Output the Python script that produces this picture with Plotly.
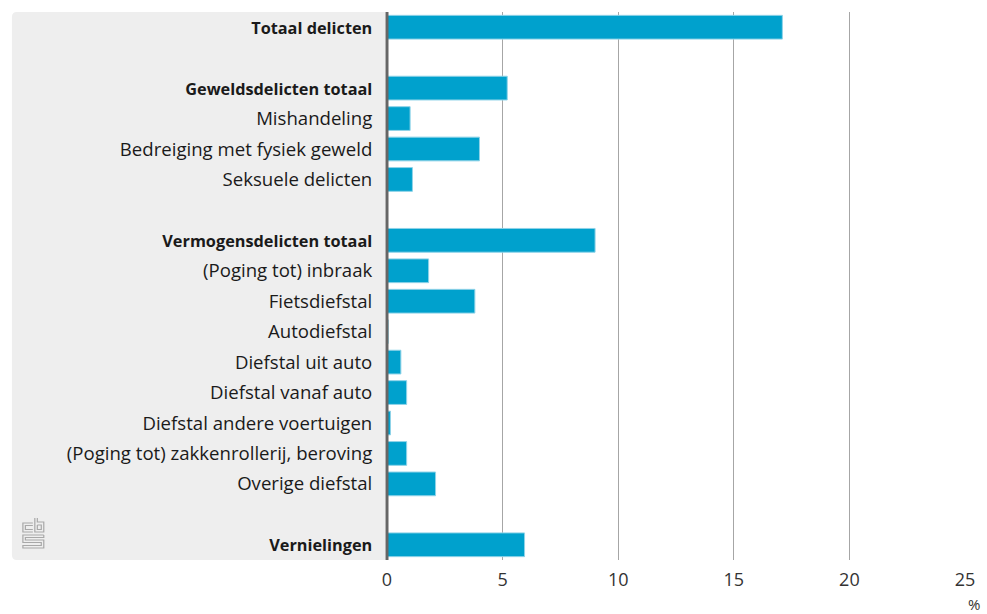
import plotly.graph_objects as go

categories = [
    "Totaal delicten", "",
    "Geweldsdelicten totaal", "Mishandeling", "Bedreiging met fysiek geweld", "Seksuele delicten", "",
    "Vermogensdelicten totaal", "(Poging tot) inbraak", "Fietsdiefstal", "Autodiefstal",
    "Diefstal uit auto", "Diefstal vanaf auto", "Diefstal andere voertuigen",
    "(Poging tot) zakkenrollerij, beroving", "Overige diefstal", "",
    "Vernielingen",
]
bold_categories = ["Totaal delicten", "Geweldsdelicten totaal", "Vermogensdelicten totaal", "Vernielingen"]
values = [17.1, None, 5.2, 1.0, 4.0, 1.1, None, 9.0, 1.8, 3.8, 0.05, 0.6, 0.85, 0.15, 0.85, 2.1, None, 5.95]
x_ticks = [0, 5, 10, 15, 20, 25]

positions = list(range(len(categories)))
tick_text = [
    f"<b><span style='font-size:16.3px'>{c}</span></b>" if c in bold_categories else c
    for c in categories
]

FONT = "Open Sans"
BAR = "#00a1cd"

# pixel geometry helpers (plot area: x 387..968, y 12..560)
L, R, T, B = 387, 968, 12, 560
W, H = R - L, B - T
def px(p):
    return (p - L) / W
def py(p):
    return (B - p) / H

fig = go.Figure()
fig.add_trace(go.Bar(
    x=values, y=positions, orientation="h",
    marker=dict(color=BAR, line=dict(color="#8fd3e8", width=1)),
    width=0.78, hoverinfo="skip",
))

shapes = []
# grey label panel with rounded corners
x0, x1, y0, y1, r = 10, 385, T, B, 5
path = (f"M {px(x0+r)},{py(y0)} L {px(x1)},{py(y0)} L {px(x1)},{py(y1)} "
        f"L {px(x0+r)},{py(y1)} Q {px(x0)},{py(y1)} {px(x0)},{py(y1-r)} "
        f"L {px(x0)},{py(y0+r)} Q {px(x0)},{py(y0)} {px(x0+r)},{py(y0)} Z")
shapes.append(dict(type="path", path=path, xref="paper", yref="paper",
                   fillcolor="#eeeeee", line=dict(width=0), layer="below"))

# axis line at zero
shapes.append(dict(type="line", xref="paper", yref="paper", x0=px(387), x1=px(387),
                   y0=0, y1=1, line=dict(color="#666666", width=3), layer="above"))

# CBS logo (approximate)
logo_col = "#a8a8a8"
logo_paths = [
    [(31, 523), (21, 523), (21, 532), (31, 532)],
    [(31, 525.5), (23.5, 525.5), (23.5, 529.5), (31, 529.5)],
    [(33, 518), (33, 532), (42, 532), (42, 522), (35.5, 522), (35.5, 518)],
    [(35.5, 525), (39.5, 525), (39.5, 529.5), (35.5, 529.5), (35.5, 525)],
    [(42, 535), (21, 535), (21, 542.5), (39.5, 542.5), (39.5, 545.5), (21, 545.5), (21, 548), (42, 548),
     (42, 540), (23.5, 540), (23.5, 537.5), (42, 537.5), (42, 535)],
]
for pts in logo_paths:
    d = "M " + " L ".join(f"{px(a)},{py(b)}" for a, b in pts)
    shapes.append(dict(type="path", path=d, xref="paper", yref="paper",
                       line=dict(color=logo_col, width=1.2), layer="below"))

fig.update_layout(
    width=987, height=614,
    margin=dict(l=L, r=987 - R, t=T, b=614 - B),
    paper_bgcolor="white", plot_bgcolor="rgba(0,0,0,0)",
    font=dict(family=FONT, size=18.6, color="#1a1a1a"),
    showlegend=False, bargap=0.2,
    shapes=shapes,
    annotations=[dict(text="%", x=px(977), y=py(604), xref="paper", yref="paper",
                      showarrow=False, font=dict(family=FONT, size=15, color="#333333"),
                      xanchor="center", yanchor="middle")],
)
fig.update_xaxes(
    range=[0, 25], tickvals=x_ticks, ticktext=[str(v) for v in x_ticks],
    showgrid=True, gridcolor="#a6a6a6", gridwidth=1, zeroline=False,
    showline=False, ticks="outside", ticklen=3, tickcolor="rgba(0,0,0,0)",
    tickfont=dict(family=FONT, size=18, color="#333333"), fixedrange=True,
)
fig.update_yaxes(
    range=[len(categories) - 0.5, -0.5], tickvals=positions, ticktext=tick_text,
    showgrid=False, zeroline=False, showline=False,
    ticks="outside", ticklen=10, tickcolor="rgba(0,0,0,0)",
    tickfont=dict(family=FONT, size=18.6, color="#1a1a1a"), fixedrange=True,
)

fig.write_html(
    "out.html",
    config={"displayModeBar": False},
    post_script="document.body.style.margin='0';document.body.style.overflow='hidden';",
)
